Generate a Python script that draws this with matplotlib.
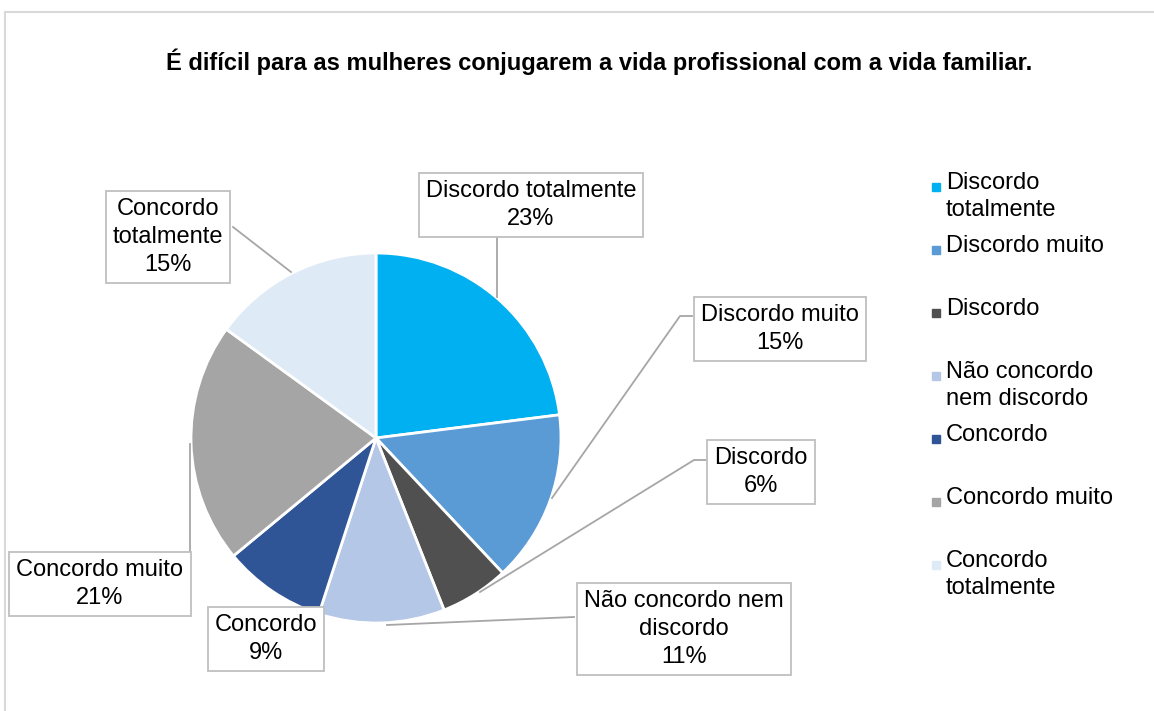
import matplotlib
matplotlib.use("Agg")
import matplotlib.pyplot as plt
from matplotlib.patches import Rectangle

plt.rcParams['font.family'] = ['Liberation Sans', 'DejaVu Sans']

title = "É difícil para as mulheres conjugarem a vida profissional com a vida familiar."
categories = ["Discordo totalmente", "Discordo muito", "Discordo",
              "Não concordo nem discordo", "Concordo", "Concordo muito",
              "Concordo totalmente"]
legend_labels = ["Discordo\ntotalmente", "Discordo muito", "Discordo",
                 "Não concordo\nnem discordo", "Concordo", "Concordo muito",
                 "Concordo\ntotalmente"]
data_labels = ["Discordo totalmente", "Discordo muito", "Discordo",
               "Não concordo nem\ndiscordo", "Concordo", "Concordo muito",
               "Concordo\ntotalmente"]
values = [23, 15, 6, 11, 9, 21, 15]
colors = ["#00B0F0", "#5B9BD5", "#505050", "#B4C7E7", "#2F5597", "#A5A5A5", "#DEEBF7"]

W, H = 1154, 711
fig = plt.figure(figsize=(W / 100, H / 100), dpi=100)
ax = fig.add_axes([0, 0, 1, 1])


def P(x, y):
    return (x, H - y)


ax.pie(values, colors=colors, startangle=90, counterclock=False,
       center=P(376, 438), radius=185,
       wedgeprops=dict(edgecolor='white', linewidth=2))
ax.set_xlim(0, W)
ax.set_ylim(0, H)
ax.set_aspect('equal')
ax.axis('off')

# chart frame
ax.add_patch(Rectangle(P(5, 12 + 720), 1200, 720, fill=False, ec="#D9D9D9", lw=1.5))

ax.text(*P(599, 62), title, ha='center', va='center', fontsize=17, fontweight='bold')

# data label positions (box centres) and leader lines
label_pos = [(531, 205), (780, 329), (761, 472), (684, 629), (266, 639), (100, 584), (168, 237)]
leaders = [
    [(497, 236), (497, 297)],
    [(692, 316), (680, 316), (552, 498)],
    [(706, 460), (694, 460), (480, 592)],
    [(574, 617), (387, 625)],
    None,
    [(190, 552), (190, 444)],
    [(233, 227), (291, 272)],
]
for lbl, v, pos, ld in zip(data_labels, values, label_pos, leaders):
    if ld:
        xs = [p[0] for p in ld]
        ys = [H - p[1] for p in ld]
        ax.plot(xs, ys, color="#A6A6A6", lw=1.3, zorder=3)
    ax.text(*P(*pos), f"{lbl}\n{v}%", ha='center', va='center', fontsize=17,
            linespacing=1.35, zorder=5,
            bbox=dict(boxstyle='square,pad=0.3', fc='white', ec='#BFBFBF', lw=1.3))

# legend
for i, (lbl, c) in enumerate(zip(legend_labels, colors)):
    ytop = 175 + 63 * i
    ax.add_patch(Rectangle(P(932, ytop + 16), 8, 8, color=c))
    ax.text(*P(946, ytop - 3), lbl, ha='left', va='top', fontsize=17, linespacing=1.28)

fig.savefig("out.png", dpi=100)
